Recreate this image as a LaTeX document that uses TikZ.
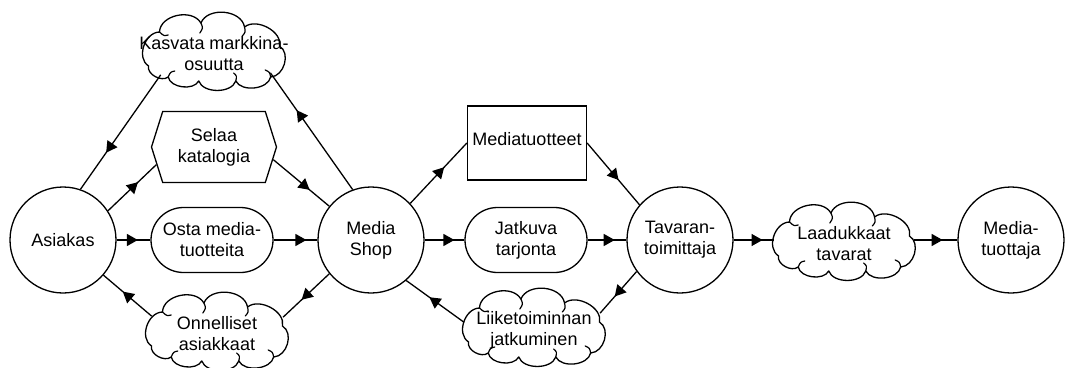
\documentclass[tikz,border=0pt]{standalone}
\usepackage{fontspec}
\setmainfont{Liberation Sans}
\usetikzlibrary{shapes.geometric,shapes.symbols,shapes.misc,arrows.meta,decorations.markings}

\tikzset{
  lbl/.style={font=\fontsize{18}{21}\selectfont, align=center},
  outline/.style={draw, line width=1.3pt},
  actor/.style={circle, outline, minimum size=106pt, inner sep=0pt, lbl},
  % the cloud outline is drawn by the pic below; the node gives the anchors
  softgoal/.style={ellipse, minimum width=140pt, minimum height=76pt, inner sep=0pt},
  cloudtext/.style={lbl, inner sep=0pt, yshift=-4pt},
  taskbox/.style={signal, signal to=east and west, signal pointer angle=145,
    outline, minimum width=125pt, minimum height=71pt, inner sep=0pt, lbl},
  goalbox/.style={rounded rectangle, outline, minimum width=122pt,
    minimum height=65pt, inner sep=0pt, lbl},
  resbox/.style={rectangle, outline, minimum width=119pt, minimum height=74pt,
    inner sep=0pt, lbl},
  dep/.style={line width=1.3pt, postaction={decorate},
    decoration={markings, mark=at position #1 with
      {\arrow{Triangle[length=11pt,width=12pt]}}}},
  dep/.default=0.68,
  puff/.style={bend left=72},
  bigpuff/.style={bend left=75, looseness=1.12},
  cloudshape/.pic={
    \draw[line width=1.3pt, line join=round]
      (-60,16) to[puff] (-50,-18) to[bigpuff] (-12,-27) to[bigpuff] (28,-23)
      to[puff] (60,-4) to[puff] (52,27) to[puff] (20,31)
      to[puff] (-14,31) to[puff] (-42,27) to[puff] cycle;
    \draw[line width=1.2pt, line cap=round]
      (-12,-27) .. controls (-10,-22) .. (-13,-17)
      (28,-23) .. controls (29,-18) .. (26,-14)
      (52,27) .. controls (51,22) .. (47,20)
      (20,31) .. controls (21,26) .. (18,23)
      (-42,27) .. controls (-40,22) .. (-36,21)
      (-50,-18) .. controls (-46,-14) .. (-42,-15);
  }
}

\begin{document}
\begin{tikzpicture}[x=1pt,y=-1pt]
\useasboundingbox (0,0) rectangle (1066,367);

% actors
\node[actor] (asiakas) at (63,240) {Asiakas};
\node[actor] (shop) at (371,240) {Media\\Shop};
\node[actor] (toim) at (680,240) {Tavaran-\\toimittaja};
\node[actor] (tuottaja) at (1011,240) {Media-\\tuottaja};

% softgoals
\node[softgoal] (kasvata) at (214,50) {};
\node[softgoal] (onnelliset) at (217,330) {};
\node[softgoal] (liike) at (534,326) {};
\node[softgoal] (laatu) at (844,240) {};
\foreach \c in {kasvata,onnelliset,liike,laatu} \pic[xscale=1.09] at (\c.center) {cloudshape};
\node[cloudtext] (kasvatat) at (kasvata.center) {Kasvata markkina-\\osuutta};
\node[cloudtext] (onnellisett) at (onnelliset.center) {Onnelliset\\asiakkaat};
\node[cloudtext] (liiket) at (liike.center) {Liiketoiminnan\\jatkuminen};
\node[cloudtext] (laatut) at (laatu.center) {Laadukkaat\\tavarat};

% task, goals and resource
\node[taskbox] (selaa) at (214,147) {Selaa\\katalogia};
\node[goalbox] (osta) at (212,240) {Osta media-\\tuotteita};
\node[goalbox] (jatkuva) at (526,240) {Jatkuva\\tarjonta};
\node[resbox, text depth=9pt] (mtuotteet) at (527,143) {Mediatuotteet};

% dependencies
\draw[dep] (shop.110) -- (kasvata.338);
\draw[dep] (kasvata.205) -- (asiakas.71);
\draw[dep=0.62] (asiakas.33) -- (selaa.197);
\draw[dep=0.65] (selaa.348) -- (shop.141);
\draw[dep=0.63] (asiakas.east) -- (osta.west);
\draw[dep=0.75] (osta.east) -- (shop.west);
\draw[dep=0.6] (shop.219) -- (onnelliset.11);
\draw[dep=0.6] (onnelliset.168) -- (asiakas.319);

\draw[dep=0.6] (shop.43) -- (mtuotteet.west);
\draw[dep=0.6] (mtuotteet.east) -- (toim.139);
\draw[dep=0.75] (shop.east) -- (jatkuva.west);
\draw[dep=0.7] (jatkuva.east) -- (toim.west);
\draw[dep=0.6] (toim.216) -- (liike.11);
\draw[dep=0.6] (liike.177) -- (shop.311);

\draw[dep=0.72] (toim.east) -- (laatu.west);
\draw[dep=0.66] (laatu.east) -- (tuottaja.west);
\end{tikzpicture}
\end{document}
